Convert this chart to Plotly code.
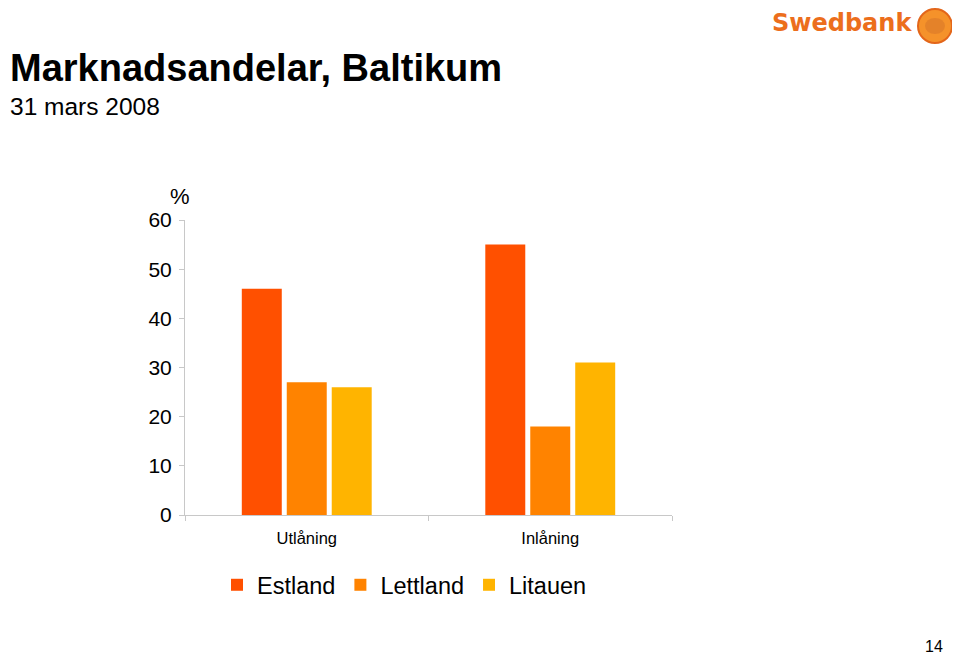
import plotly.graph_objects as go

categories = ["Utlåning", "Inlåning"]
series_names = ["Estland", "Lettland", "Litauen"]
estland = [46, 55]
lettland = [27, 18]
litauen = [26, 31]
colors = ["#FF5000", "#FF8300", "#FFB400"]
y_ticks = [0, 10, 20, 30, 40, 50, 60]

# page (browser) pixel -> paper coordinate helpers; page has 8px body margin
PL, PR, PT, PB = 185, 672, 220, 515
PW, PH = PR - PL, PB - PT
def px(x):
    return (x - PL) / PW
def py(y):
    return (PB - y) / PH

fig = go.Figure()
for name, vals, col in zip(series_names, [estland, lettland, litauen], colors):
    fig.add_trace(go.Bar(x=categories, y=vals, name=name, marker=dict(color=col, line=dict(width=0))))

font = "Liberation Sans, Arial, sans-serif"
W, H = 952, 646
fig.update_layout(
    width=W, height=H,
    margin=dict(l=PL - 8, r=W - (PR - 8), t=PT - 8, b=H - (PB - 8), pad=0),
    paper_bgcolor="white", plot_bgcolor="white",
    barmode="group", bargap=0.446, bargroupgap=0.111,
    font=dict(family=font, color="black"),
    showlegend=True,
    legend=dict(orientation="h", x=px(217), xanchor="left", y=py(585), yanchor="middle",
                font=dict(size=23.5, family=font), itemwidth=30, tracegroupgap=0,
                bgcolor="rgba(0,0,0,0)"),
    xaxis=dict(showline=True, linecolor="#C8C8C8", linewidth=1, ticks="outside",
               tickson="boundaries", ticklen=5, tickcolor="#C8C8C8",
               ticklabelstandoff=8,
               tickfont=dict(size=16.5, family=font), showgrid=False, fixedrange=True),
    yaxis=dict(range=[0, 60], tickvals=y_ticks, showline=True, linecolor="#C8C8C8",
               linewidth=1, ticks="outside", ticklen=5, tickcolor="#C8C8C8",
               ticklabelstandoff=3,
               tickfont=dict(size=21, family=font), showgrid=False, zeroline=False),
    annotations=[
        dict(text="<b>Marknadsandelar, Baltikum</b>", xref="paper", yref="paper", x=px(8), y=py(68),
             xanchor="left", yanchor="middle", showarrow=False, font=dict(size=38, family=font)),
        dict(text="31 mars 2008", xref="paper", yref="paper", x=px(8), y=py(106),
             xanchor="left", yanchor="middle", showarrow=False, font=dict(size=24.5, family=font)),
        dict(text="%", xref="paper", yref="paper", x=px(180), y=py(196),
             xanchor="center", yanchor="middle", showarrow=False, font=dict(size=22, family=font)),
        dict(text="<b>Swedbank</b>", xref="paper", yref="paper", x=px(914), y=py(23),
             xanchor="right", yanchor="middle", showarrow=False,
             font=dict(size=24, family="DejaVu Sans, sans-serif", color="#EC6E1C")),
        dict(text="14", xref="paper", yref="paper", x=px(945), y=py(646),
             xanchor="right", yanchor="middle", showarrow=False, font=dict(size=16, family=font)),
    ],
    shapes=[
        dict(type="circle", xref="paper", yref="paper",
             x0=px(918), x1=px(952), y0=py(43), y1=py(9),
             fillcolor="#F5922A", line=dict(color="#E3661A", width=2)),
        dict(type="circle", xref="paper", yref="paper",
             x0=px(925), x1=px(945), y0=py(34), y1=py(18),
             fillcolor="#D9782A", line=dict(width=0), opacity=0.6),
    ],
)

fig.write_html("out.html")
